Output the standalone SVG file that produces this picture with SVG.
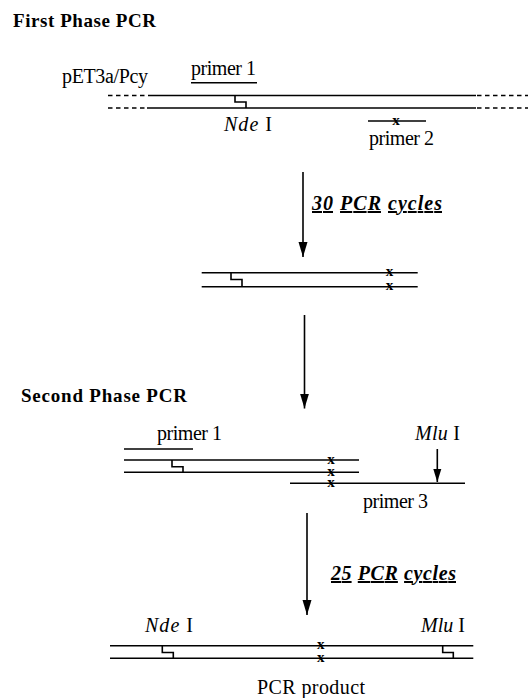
<svg xmlns="http://www.w3.org/2000/svg" width="528" height="698" viewBox="0 0 528 698">
<style>
.s{stroke:#000;stroke-width:1.6;fill:none}
.d{stroke-dasharray:4.5 3.5}
.t{font-family:"Liberation Serif","Times New Roman",serif;font-size:20px;fill:#000}
.h{font-weight:bold;font-size:19px}
.c{font-weight:bold;font-style:italic;font-size:20px}
.i{font-style:italic}
.x{font-family:"Liberation Serif","Times New Roman",serif;font-weight:bold;font-size:15px;text-anchor:middle;fill:#000}
</style>
<defs>
<marker id="ah" markerUnits="userSpaceOnUse" markerWidth="15" markerHeight="10" refX="15" refY="5" orient="auto" viewBox="0 0 15 10"><path d="M0,0.5 L15,5 L0,9.5 Z" fill="#000"/></marker>
<marker id="ahs" markerUnits="userSpaceOnUse" markerWidth="13" markerHeight="9" refX="13" refY="4.5" orient="auto" viewBox="0 0 13 9"><path d="M0,0.5 L13,4.5 L0,8.5 Z" fill="#000"/></marker>
</defs>
<rect width="528" height="698" fill="#fff"/>

<g id="title1"><text class="t h" x="13" y="26.5" textLength="143" lengthAdjust="spacing">First Phase PCR</text></g>

<g id="template">
<text class="t" x="62" y="83" textLength="86" lengthAdjust="spacing">pET3a/Pcy</text>
<line class="s d" x1="108" y1="95.5" x2="150" y2="95.5"/>
<line class="s" x1="150" y1="95.5" x2="476" y2="95.5"/>
<line class="s d" x1="477" y1="95.5" x2="528" y2="95.5"/>
<line class="s d" x1="108" y1="108" x2="147" y2="108"/>
<line class="s" x1="147" y1="108" x2="476" y2="108"/>
<line class="s d" x1="477" y1="108" x2="528" y2="108"/>
<path class="s" d="M235,95.5 V102 H246 V108"/>
<text class="t" x="224" y="131" textLength="48" lengthAdjust="spacing"><tspan class="i">Nde</tspan> I</text>
</g>

<g id="primer1a">
<text class="t" x="191" y="75" textLength="65" lengthAdjust="spacing">primer 1</text>
<line class="s" x1="191" y1="82.7" x2="257" y2="82.7"/>
</g>

<g id="primer2">
<line class="s" x1="368" y1="121" x2="426" y2="121"/>
<text class="x" x="396" y="124.7">x</text>
<text class="t" x="369" y="145" textLength="65" lengthAdjust="spacing">primer 2</text>
</g>

<g id="label1"><text class="t c" x="312" y="210" textLength="130" lengthAdjust="spacing"><tspan text-decoration="underline">30</tspan> <tspan text-decoration="underline">PCR</tspan> <tspan text-decoration="underline">cycles</tspan></text></g>

<g id="product1">
<line class="s" x1="201.7" y1="272.7" x2="417.7" y2="272.7"/>
<line class="s" x1="201.7" y1="286.7" x2="417.7" y2="286.7"/>
<path class="s" d="M231,272.7 V279.5 H242 V286.7"/>
<text class="x"><tspan x="389.5" y="276.4">x</tspan><tspan x="389.5" y="290.4">x</tspan></text>
</g>

<g id="title2"><text class="t h" x="21" y="401.7" textLength="166" lengthAdjust="spacing">Second Phase PCR</text></g>

<g id="phase2">
<text class="t" x="157" y="440" textLength="65" lengthAdjust="spacing">primer 1</text>
<line class="s" x1="124" y1="449" x2="193" y2="449"/>
<line class="s" x1="124" y1="460" x2="359" y2="460"/>
<line class="s" x1="124" y1="472.3" x2="359" y2="472.3"/>
<path class="s" d="M172,460 V466.7 H183 V472.3"/>
<text class="x"><tspan x="331" y="463.7">x</tspan><tspan x="331" y="476">x</tspan><tspan x="331" y="487">x</tspan></text>
</g>

<g id="primer3">
<text class="t" x="415" y="440" textLength="45" lengthAdjust="spacing"><tspan class="i">Mlu</tspan> I</text>
<line class="s" x1="290" y1="483.3" x2="465" y2="483.3"/>
<line class="s" x1="437.3" y1="449" x2="437.3" y2="482" marker-end="url(#ahs)"/>
<text class="t" x="363" y="508" textLength="65" lengthAdjust="spacing">primer 3</text>
</g>

<g id="label2"><text class="t c" x="331" y="580" textLength="125" lengthAdjust="spacing"><tspan text-decoration="underline">25</tspan> <tspan text-decoration="underline">PCR</tspan> <tspan text-decoration="underline">cycles</tspan></text></g>

<g id="product2">
<text class="t" x="145" y="631.7" textLength="48" lengthAdjust="spacing"><tspan class="i">Nde</tspan> I</text>
<text class="t" x="421" y="631.7"><tspan class="i">Mlu</tspan> I</text>
<line class="s" x1="110" y1="645.7" x2="473.3" y2="645.7"/>
<line class="s" x1="110" y1="658.3" x2="473.3" y2="658.3"/>
<path class="s" d="M162.3,645.7 V652.5 H173.3 V658.3"/>
<path class="s" d="M442.7,645.7 V652.5 H453.3 V658.3"/>
<text class="x"><tspan x="320.7" y="649.4">x</tspan><tspan x="320.7" y="662">x</tspan></text>
<text class="t" x="257" y="693.5" textLength="108" lengthAdjust="spacing">PCR product</text>
</g>

<g id="connectors">
<line class="s" x1="303" y1="172" x2="303" y2="257" marker-end="url(#ah)"/>
<line class="s" x1="304.5" y1="315" x2="304.5" y2="408.5" marker-end="url(#ah)"/>
<line class="s" x1="307" y1="513" x2="307" y2="615" marker-end="url(#ah)"/>
</g>
</svg>
